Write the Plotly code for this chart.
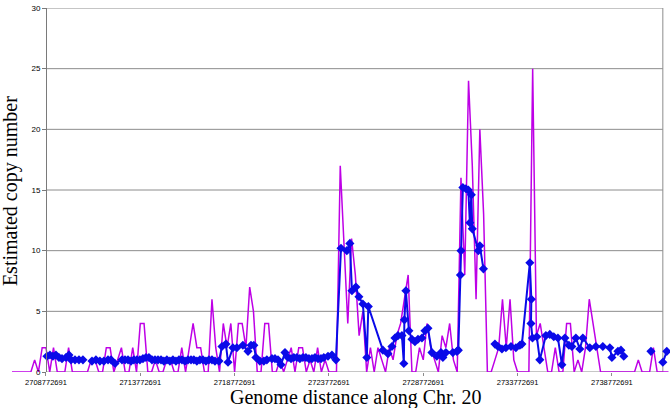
import plotly.graph_objects as go

# Tick labels of the genome axis (offsets in Mb from the first label)
tick_offsets = [0, 5, 10, 15, 20, 25, 30]
tick_labels = ["2708772691", "2713772691", "2718772691", "2723772691",
               "2728772691", "2733772691", "2738772691"]

# Raw count series (magenta), evenly spaced positions
raw_start = -1.8
raw_step = 0.2
raw_values = [
    0, 0, 0, 0, 0, 0,
    1, 0, 2, 2, 0, 2, 0, 0, 0, 2, 0, 0,
    0, 0, 0, 1, 1, 0, 0, 2, 2, 0,
    1, 2, 0, 0, 2, 0, 4, 4, 0, 0,
    1, 0, 0, 1, 1, 0, 0, 2, 0, 2,
    4, 2, 2, 0, 0, 6, 2, 0, 4, 2,
    4, 0, 4, 4, 2, 7, 5, 0, 0, 4,
    4, 0, 0, 1, 0, 1, 2, 0, 2, 2,
    0, 1, 0, 2, 0, 1, 0, 0, 0, 17,
    10, 4, 11, 8, 3, 5, 0, 2, 0, 2,
    1, 0, 2, 1, 3, 4, 6, 8, 0, 0,
    2, 1, 4, 2, 1, 0, 3, 2, 4, 1,
    0, 16, 8, 24, 17, 6, 20, 13, 0, 0,
    1, 2, 6, 2, 6, 1, 0, 0, 0, 0,
    25, 3, 4, 2, 0, 0, 2, 0, 0, 4,
    4, 0, 1, 0, 2, 6, 4, 2, 0, 0,
    0, 0, 0, 0, 0, 0, 0, 0, 1, 0,
    0, 0, 2, 0, 0, 0, 0,
]

# Smoothed estimate series (blue); None breaks the line
est_pos = [
    0.05, 0.21, 0.37, 0.53, 0.69, 0.85, 1.06, 1.22, 1.33, 1.54, 1.75, 1.96,
    None,
    2.44, 2.65, 2.86, 3.07, 3.29, 3.45, 3.66, 4.03, 4.19, 4.35, 4.51, 4.66,
    4.82, 4.98, 5.14, 5.30, 5.46, 5.62, 5.78, 5.94, 6.10, 6.25, 6.41, 6.57,
    6.73, 6.89, 7.05, 7.21, 7.37, 7.53, 7.69, 7.84, 8.00, 8.16, 8.32, 8.48,
    8.64, 8.80, 8.96, 9.17, 9.33, 9.54, 9.65, 9.91, 10.12, 10.44, 10.71,
    10.87, 11.02, 11.13, 11.34, 11.55, 11.71, 11.98, 12.14, 12.30, 12.46,
    12.67, 12.83, 12.99, 13.14, 13.30, 13.46, 13.62, 13.78, 13.94, 14.10,
    14.26, 14.42, 14.58, 14.73, 14.95, 15.16, 15.37, 15.64, 15.95, 16.11,
    16.22, 16.43, 16.59, 16.80, 17.01, 17.09, 17.86, 18.13, 18.34, 18.50,
    18.66, 18.87, 18.97, 19.00, 19.08, 19.24, 19.40, 19.56, 19.72, 19.93,
    20.09, 20.25, 20.46, 20.72, 20.94, 21.04, 21.20, 21.57, 21.78, 21.86,
    21.97, 22.00, 22.10, 22.26, 22.39, 22.47, 22.55, 22.60, 22.92, 23.00,
    23.19,
    None,
    23.80, 23.96, 24.17, 24.38, 24.65, 24.91, 25.12, 25.23, 25.65, 25.73,
    25.71, 25.79, 26.02, 26.18, 26.50, 26.71, 26.92, 27.14, 27.35, 27.51,
    27.72, 27.88, 28.09, 28.30, 28.46, 28.83, 29.15, 29.52, 29.89, 30.00,
    30.32, 30.48, 30.63,
    None,
    32.07,
    None,
    32.70, 32.91,
]
est_values = [
    1.3, 1.4, 1.3, 1.4, 1.2, 1.1, 1.2, 1.4, 1.0, 1.0, 1.0, 1.0,
    None,
    0.9, 1.0, 0.9, 0.9, 1.0, 1.0, 0.7, 1.0, 1.0, 1.0, 0.9, 1.0,
    1.0, 1.0, 1.1, 1.2, 1.2, 1.0, 1.0, 1.0, 1.0, 0.9, 1.0, 0.9,
    1.0, 0.9, 1.0, 1.0, 0.9, 1.0, 1.0, 1.0, 0.9, 1.0, 1.0, 0.9,
    1.0, 1.0, 0.9, 0.9, 2.1, 2.3, 0.8, 2.0, 2.0, 2.2, 1.7,
    2.2, 2.2, 1.2, 0.9, 0.9, 1.0, 1.1, 1.1, 1.0, 0.6,
    1.6, 1.2, 1.1, 1.2, 1.2, 1.1, 1.2, 1.2, 1.1, 1.1,
    1.2, 1.1, 1.1, 1.2, 1.3, 1.4, 1.0, 10.2, 10.0, 10.6,
    6.7, 7.0, 6.2, 5.6, 1.2, 5.4, 1.8, 1.5, 2.1, 2.8,
    3.0, 3.0, 0.7, 4.3, 6.7, 3.4, 2.7, 2.5, 2.7, 2.8,
    3.4, 3.6, 1.6, 1.3, 1.6, 1.2, 1.6, 1.6, 1.7, 1.8,
    8.0, 10.0, 15.2, 15.1, 15.0, 12.3, 14.6, 11.8, 10.0, 10.4,
    8.5,
    None,
    2.3, 2.1, 1.9, 2.0, 2.1, 2.0, 2.2, 2.3, 9.0, 6.0,
    4.0, 2.8, 2.9, 1.0, 3.0, 3.1, 2.9, 2.8, 0.6, 2.8,
    2.2, 2.1, 2.8, 1.9, 2.8, 2.0, 2.1, 2.1, 2.0, 1.2,
    1.7, 1.8, 1.3,
    None,
    1.7,
    None,
    0.8, 1.7,
]

y_ticks = [0, 5, 10, 15, 20, 25, 30]

raw_pos = [raw_start + raw_step * k for k in range(len(raw_values))]

x_min, x_max = -1.80, 33.08
x_border = 32.70

fig = go.Figure()
fig.add_trace(go.Scatter(
    x=raw_pos, y=raw_values, mode="lines",
    line=dict(color="#BE00E6", width=1.5),
    hoverinfo="x+y", showlegend=False,
))
fig.add_trace(go.Scatter(
    x=est_pos, y=est_values, mode="lines+markers",
    line=dict(color="#0A0AE8", width=2),
    marker=dict(symbol="diamond", size=7, color="#0A0AE8"),
    connectgaps=False, showlegend=False,
))

shapes = []
for v in y_ticks:
    shapes.append(dict(type="line", xref="x", yref="y", x0=0, x1=x_border,
                       y0=v, y1=v, line=dict(color="#8C8C8C", width=1),
                       layer="below"))
shapes.append(dict(type="line", xref="x", yref="y", x0=x_border, x1=x_border,
                   y0=0, y1=30, line=dict(color="#8C8C8C", width=1),
                   layer="below"))

fig.update_layout(
    width=670, height=408,
    margin=dict(l=12, r=0, t=8, b=36, autoexpand=False),
    paper_bgcolor="white", plot_bgcolor="white",
    shapes=shapes,
    xaxis=dict(range=[x_min, x_max], tickvals=tick_offsets, ticktext=tick_labels,
               showgrid=False, zeroline=False, showline=False, automargin=False,
               ticks="outside", ticklen=3, tickcolor="#8C8C8C",
               tickfont=dict(family="Liberation Sans, Arial", size=7.5, color="black")),
    yaxis=dict(range=[0, 30], tickvals=y_ticks, showgrid=False, zeroline=False,
               anchor="free", position=34 / 658, automargin=False,
               showline=True, linecolor="#7A7A7A", linewidth=1,
               ticks="outside", ticklen=4, tickcolor="#7A7A7A",
               tickfont=dict(family="Liberation Sans, Arial", size=8, color="black")),
    annotations=[
        dict(text="Estimated copy number", xref="paper", yref="paper",
             x=-0.003, y=0.497, xanchor="center", yanchor="middle",
             textangle=-90, showarrow=False,
             font=dict(family="Liberation Serif, Times New Roman", size=20, color="black")),
        dict(text="Genome distance along Chr. 20", xref="paper", yref="paper",
             x=0.5228, y=-0.0687, xanchor="center", yanchor="middle",
             showarrow=False,
             font=dict(family="Liberation Serif, Times New Roman", size=20, color="black")),
    ],
)

fig.write_html("out.html",
               config={"displayModeBar": False},
               post_script="document.body.style.margin='0';document.body.style.overflow='hidden';")
